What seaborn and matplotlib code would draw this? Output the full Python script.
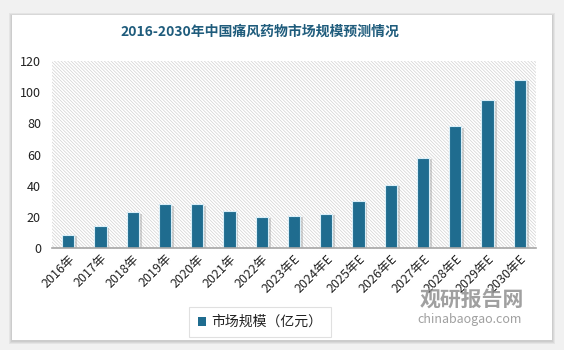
import matplotlib
matplotlib.use("Agg")
import matplotlib.pyplot as plt
import matplotlib.patches as mpatches
import matplotlib.patheffects as pe
import seaborn as sns
import pandas as pd

categories = ["2016年", "2017年", "2018年", "2019年", "2020年", "2021年", "2022年",
              "2023年E", "2024年E", "2025年E", "2026年E", "2027年E", "2028年E",
              "2029年E", "2030年E"]
values = [8.5, 14, 23, 28, 28, 23.5, 20, 20.5, 22, 30, 40.5, 58, 78, 95, 108]
series_name = "市场规模（亿元）"
title = "2016-2030年中国痛风药物市场规模预测情况"
yticks = [0, 20, 40, 60, 80, 100, 120]

sns.set_theme(style="white")
plt.rcParams['font.family'] = ['Noto Sans CJK SC', 'DejaVu Sans']
plt.rcParams['hatch.linewidth'] = 0.5
plt.rcParams['hatch.color'] = '#D2D2D2'

W, H = 564, 350
fig = plt.figure(figsize=(W / 100, H / 100), dpi=100)
fig.patch.set_facecolor('#F1F1F1')

# card with soft shadow
for i, a in enumerate([0.05, 0.05, 0.05]):
    fig.patches.append(mpatches.Rectangle(((12 - 1 - i) / W, (350 - 340 - 2 - i) / H),
                                          (540 + 2 + 2 * i) / W, (325 + 2 + 2 * i) / H,
                                          transform=fig.transFigure, facecolor='black',
                                          alpha=a, edgecolor='none', zorder=-3))
fig.patches.append(mpatches.Rectangle((12 / W, (350 - 340) / H), 540 / W, 325 / H,
                                      transform=fig.transFigure, facecolor='white',
                                      edgecolor='none', zorder=-2))

ax = fig.add_axes([52 / W, (350 - 248) / H, (536 - 52) / W, (248 - 61) / H])
ax.set_facecolor('none')

df = pd.DataFrame({"year": categories, "value": values})

# hatched background
ax.add_patch(mpatches.Rectangle((0, 0), 1, 1, transform=ax.transAxes,
                                facecolor='white', edgecolor='#D2D2D2',
                                hatch='\\' * 10, linewidth=0, zorder=0))

sns.barplot(data=df, x="year", y="value", color='#1F6C8F', width=0.38, ax=ax,
            saturation=1, zorder=3, edgecolor='#D8EEF8', linewidth=0.8)
for bar in ax.containers[0]:
    bar.set_path_effects([pe.SimplePatchShadow(offset=(2, -1), shadow_rgbFace='#888888', alpha=0.35),
                          pe.Normal()])

ax.set_ylim(0, 120)
ax.set_xlim(-0.5, len(categories) - 0.5)
ax.set_yticks(yticks)
ax.set_yticklabels([str(t) for t in yticks], fontsize=9, color='#222222')
ax.set_xticks(range(len(categories)))
ax.set_xticklabels(categories, rotation=45, ha='right', rotation_mode='anchor',
                   fontsize=9, color='#222222')
ax.tick_params(axis='y', length=0, pad=8)
ax.tick_params(axis='x', length=0, pad=3)
ax.set_xlabel("")
ax.set_ylabel("")
for s in ['top', 'right', 'left']:
    ax.spines[s].set_visible(False)
ax.spines['bottom'].set_color('#A6A6A6')
ax.spines['bottom'].set_linewidth(1.2)
ax.spines['bottom'].set_zorder(4)

fig.text(260 / W, 1 - 32 / H, title, ha='center', va='center', fontsize=10,
         fontweight='bold', color='#1F5C7C')

# legend
handle = mpatches.Patch(facecolor='#1F6C8F', edgecolor='none', label=series_name)
leg = fig.legend(handles=[handle], loc='center', bbox_to_anchor=(260 / W, 1 - 322 / H),
                 frameon=True, fontsize=10, handlelength=0.6, handleheight=0.6,
                 handletextpad=0.4, borderpad=0.6, borderaxespad=0, fancybox=False)
leg.get_frame().set_edgecolor('#D9D9D9')
leg.get_frame().set_linewidth(0.8)
for t in leg.get_texts():
    t.set_color('#222222')

# watermark
fig.text(472 / W, 1 - 299 / H, "观研报告网", ha='center', va='center', fontsize=15,
         fontweight='bold', color='#8F8F8F', alpha=0.85)
fig.text(470 / W, 1 - 320 / H, "chinabaogao.com", ha='center', va='center', fontsize=9,
         color='#8F8F8F', alpha=0.85)

fig.savefig("out.png", dpi=100, facecolor=fig.get_facecolor())
